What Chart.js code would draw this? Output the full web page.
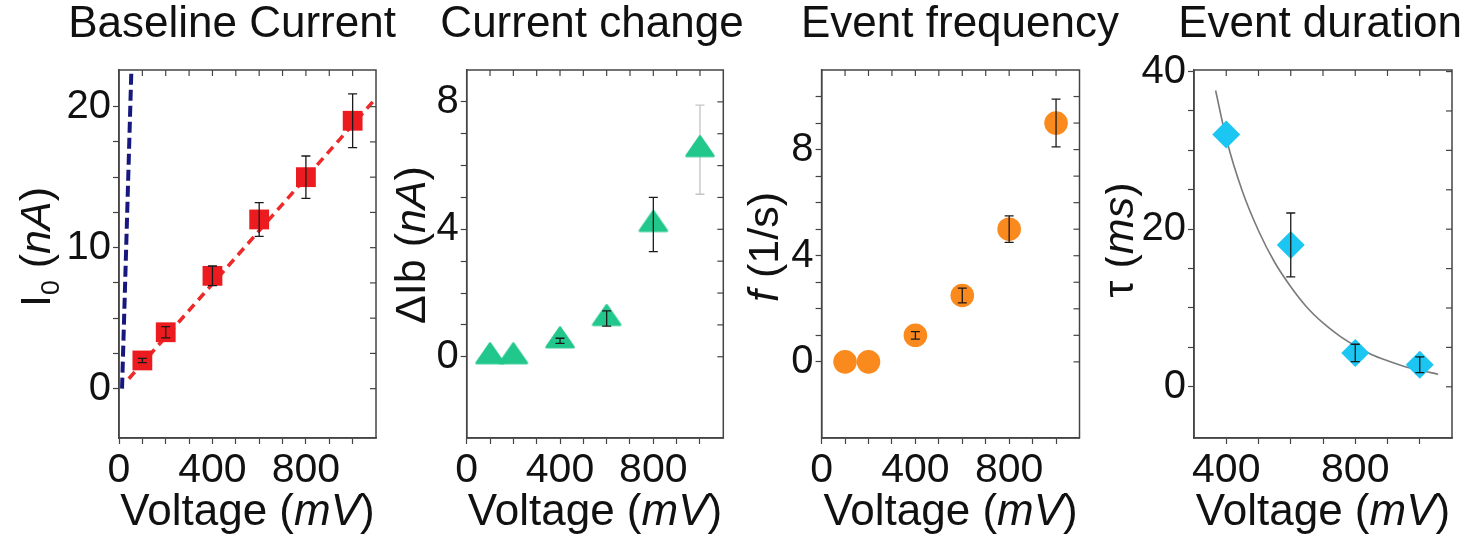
<!DOCTYPE html>
<html>
<head>
<meta charset="utf-8">
<script src="https://cdn.jsdelivr.net/npm/chart.js@4.4.1/dist/chart.umd.min.js"></script>
<style>
html,body{margin:0;padding:0;background:#fff;width:1483px;height:540px;overflow:hidden;}
canvas{position:absolute;top:0;}
</style>
</head>
<body>
<canvas id="c1"></canvas>
<canvas id="c2"></canvas>
<canvas id="c3"></canvas>
<canvas id="c4"></canvas>
<script>
// ---------- data ----------
const voltage = [100, 200, 400, 600, 800, 1000];
const baselineCurrent = [2, 4, 8, 12, 15, 19];
const baselineCurrentErr = [0.15, 0.4, 0.7, 1.2, 1.5, 1.9];
const linearFitV = [42, 1100];
const linearFitI = [0.7, 20.6];
const steepFitV = [13, 53];
const steepFitI = [0, 22.6];

const currentChange = [0, 0, 0.5, 1.2, 4.15, 6.5];
const currentChangeErr = [0, 0, 0.08, 0.24, 0.85, 1.4];

const eventFrequency = [0, 0, 1.0, 2.5, 5.0, 9.0];
const eventFrequencyErr = [0, 0, 0.14, 0.28, 0.5, 0.9];

const durationVoltage = [400, 600, 800, 1000];
const eventDuration = [32, 18, 4.3, 2.8];
const eventDurationErr = [0, 4.05, 1.1, 1.0];
const decayFitV = [367, 400, 450, 500, 550, 600, 650, 700, 750, 800, 850, 900, 950, 1000, 1057];
const decayFitT = [37.6, 31.5, 24.8, 19.8, 15.8, 12.7, 10.1, 8.1, 6.5, 5.2, 4.1, 3.3, 2.6, 2.1, 1.6];

// ---------- tick values / labels ----------
const voltTicks = [0, 100, 200, 300, 400, 500, 600, 700, 800, 900, 1000];
const voltLabels = [0, 400, 800];
const durVoltTicks = [400, 500, 600, 700, 800, 900, 1000];
const durVoltLabels = [400, 800];
const currentTicks = [0, 2.5, 5, 7.5, 10, 12.5, 15, 17.5, 20];
const currentLabels = [0, 10, 20];
const changeTicks = [0, 1, 2, 3, 4, 5, 6, 7, 8];
const changeLabels = [0, 4, 8];
const freqTicks = [0, 1, 2, 3, 4, 5, 6, 7, 8, 9, 10];
const freqLabels = [0, 4, 8];
const durTicks = [0, 5, 10, 15, 20, 25, 30, 35, 40];
const durLabels = [0, 20, 40];

// ---------- helpers ----------
const FAMILY = '"Liberation Sans", Arial, Helvetica, sans-serif';
Chart.defaults.font.family = FAMILY;
const pts = (xs, ys) => xs.map((x, i) => ({x: x, y: ys[i]}));

function drawRich(ctx, segs, size, x, y, rotate) {
  ctx.save();
  ctx.translate(x, y);
  if (rotate) ctx.rotate(-Math.PI / 2);
  let total = 0;
  const parts = segs.map(s => {
    const fs = s.sub ? size * 0.62 : size;
    const font = (s.it ? 'italic ' : '') + fs + 'px ' + FAMILY;
    ctx.font = font;
    const w = ctx.measureText(s.t).width;
    total += w;
    return {t: s.t, font: font, w: w, dy: s.sub ? size * 0.2 : 0};
  });
  let cx = -total / 2;
  ctx.textBaseline = 'alphabetic';
  ctx.textAlign = 'left';
  ctx.fillStyle = '#111';
  parts.forEach(p => { ctx.font = p.font; ctx.fillText(p.t, cx, p.dy); cx += p.w; });
  ctx.restore();
}

// flat, slightly rounded triangle marker (centroid at image centre)
function triangleMarker(color) {
  const c = document.createElement('canvas');
  c.width = 32; c.height = 30;
  const g = c.getContext('2d');
  g.fillStyle = color; g.strokeStyle = color; g.lineWidth = 2.5; g.lineJoin = 'round';
  g.beginPath();
  g.moveTo(16, 1.6); g.lineTo(29.5, 21.2); g.lineTo(2.5, 21.2); g.closePath();
  g.fill(); g.stroke();
  return c;
}

const framePlugin = {
  id: 'frame',
  afterDraw(chart) {
    const {ctx, chartArea: a, scales: {x, y}} = chart;
    ctx.save();
    ctx.strokeStyle = '#444';
    ctx.lineWidth = 1.5;
    ctx.strokeRect(a.left, a.top, a.right - a.left, a.bottom - a.top);
    ctx.lineWidth = 1.2;
    x.ticks.forEach(t => {
      const px = x.getPixelForValue(t.value);
      if (px > a.left + 1 && px < a.right - 1) {
        ctx.beginPath(); ctx.moveTo(px, a.top); ctx.lineTo(px, a.top + 6); ctx.stroke();
      }
    });
    y.ticks.forEach(t => {
      const py = y.getPixelForValue(t.value);
      if (py > a.top + 1 && py < a.bottom - 1) {
        ctx.beginPath(); ctx.moveTo(a.right, py); ctx.lineTo(a.right - 6, py); ctx.stroke();
      }
    });
    ctx.restore();
  }
};

function drawErr(chart, below) {
  const o = chart.options.plugins.errbars;
  if (!o) return;
  const {ctx, scales: {x, y}} = chart;
  ctx.save();
  o.xs.forEach((xv, i) => {
    const e = o.err[i];
    if (!e) return;
    const isBelow = (o.below || []).includes(i);
    if (isBelow !== below) return;
    const px = x.getPixelForValue(xv);
    const p1 = y.getPixelForValue(o.ys[i] + e);
    const p2 = y.getPixelForValue(o.ys[i] - e);
    ctx.strokeStyle = isBelow ? '#c4c4c4' : '#1a1a1a';
    ctx.lineWidth = 1.3;
    ctx.beginPath();
    ctx.moveTo(px, p1); ctx.lineTo(px, p2);
    ctx.moveTo(px - 4.5, p1); ctx.lineTo(px + 4.5, p1);
    ctx.moveTo(px - 4.5, p2); ctx.lineTo(px + 4.5, p2);
    ctx.stroke();
  });
  ctx.restore();
}
const errPlugin = {
  id: 'errbars',
  beforeDatasetsDraw(chart) { drawErr(chart, true); },
  afterDatasetsDraw(chart) { drawErr(chart, false); }
};

const textPlugin = {
  id: 'richtext',
  afterDraw(chart) {
    const o = chart.options.plugins.richtext;
    const {ctx, chartArea: a} = chart;
    const off = o.canvasLeft;
    drawRich(ctx, [{t: o.title}], 44, o.titleX - off, 37, false);
    drawRich(ctx, [{t: 'Voltage ('}, {t: 'mV', it: true}, {t: ')'}], 44, (a.left + a.right) / 2, 525, false);
    drawRich(ctx, o.ySegs, 43, o.yTitleX - off, o.yTitleY, true);
  }
};

function makePanel(id, p) {
  const cv = document.getElementById(id);
  cv.width = p.canvasWidth; cv.height = 540;
  cv.style.left = p.canvasLeft + 'px';
  cv.style.width = p.canvasWidth + 'px'; cv.style.height = '540px';
  const axisCommon = (tickVals, labelVals, size) => ({
    type: 'linear',
    afterBuildTicks: s => { s.ticks = tickVals.map(v => ({value: v})); },
    ticks: {
      autoSkip: false, maxRotation: 0, color: '#111', padding: 2,
      font: {size: size, family: FAMILY},
      callback: v => labelVals.includes(v) ? String(v) : ''
    },
    grid: {drawOnChartArea: false, drawTicks: true, tickLength: 6, tickColor: '#444', tickWidth: 1.2},
    border: {display: true, color: '#444', width: 1.5}
  });
  const xs = Object.assign(axisCommon(p.xTicks, p.xLabels, 41), {
    min: p.xMin, max: p.xMax, afterFit: s => { s.height = 102; }
  });
  const ys = Object.assign(axisCommon(p.yTicks, p.yLabels, 40), {
    min: p.yMin, max: p.yMax, afterFit: s => { s.width = p.yAxisWidth; }
  });
  return new Chart(cv, {
    type: 'scatter',
    data: {datasets: p.datasets},
    options: {
      responsive: false, animation: false, devicePixelRatio: 1,
      layout: {padding: {left: 0, right: p.padRight, top: 70, bottom: 0}},
      plugins: {
        legend: {display: false}, tooltip: {enabled: false}, title: {display: false},
        errbars: p.errbars,
        richtext: {canvasLeft: p.canvasLeft, title: p.title, titleX: p.titleX, ySegs: p.ySegs, yTitleX: p.yTitleX, yTitleY: p.yTitleY}
      },
      scales: {x: xs, y: ys}
    },
    plugins: [errPlugin, framePlugin, textPlugin]
  });
}

const marker = (data, style, r, color) => ({
  data: data, pointStyle: style, pointRadius: r, pointHoverRadius: r,
  backgroundColor: color, borderColor: color, borderWidth: 0, showLine: false
});
const fitLine = (data, color, width, dash) => ({
  type: 'line', data: data, showLine: true, pointRadius: 0, borderColor: color,
  borderWidth: width, borderDash: dash, fill: false, tension: 0.4, cubicInterpolationMode: 'monotone'
});

makePanel('c1', {
  canvasLeft: 0, canvasWidth: 400, yAxisWidth: 119, padRight: 24,
  xMin: 0, xMax: 1100, yMin: -3.5, yMax: 22.6,
  xTicks: voltTicks, xLabels: voltLabels, yTicks: currentTicks, yLabels: currentLabels,
  title: 'Baseline Current', titleX: 232,
  ySegs: [{t: 'I'}, {t: '0', sub: true}, {t: ' ('}, {t: 'nA', it: true}, {t: ')'}],
  yTitleX: 50, yTitleY: 247,
  errbars: {xs: voltage, ys: baselineCurrent, err: baselineCurrentErr},
  datasets: [
    marker(pts(voltage, baselineCurrent), 'rect', 14, '#ec1b1f'),
    fitLine(pts(linearFitV, linearFitI), '#ec2a2a', 3.5, [9, 6]),
    fitLine(pts(steepFitV, steepFitI), '#16187e', 4, [11, 5])
  ]
});

makePanel('c2', {
  canvasLeft: 385, canvasWidth: 365, yAxisWidth: 81.7, padRight: 26.7,
  xMin: 0, xMax: 1100, yMin: -2.55, yMax: 9.0,
  xTicks: voltTicks, xLabels: voltLabels, yTicks: changeTicks, yLabels: changeLabels,
  title: 'Current change', titleX: 592,
  ySegs: [{t: 'ΔIb ('}, {t: 'nA', it: true}, {t: ')'}],
  yTitleX: 425, yTitleY: 245,
  errbars: {xs: voltage, ys: currentChange, err: currentChangeErr, below: [5]},
  datasets: [
    marker(pts(voltage, currentChange), triangleMarker('#22c78c'), 15, '#22c78c')
  ]
});

makePanel('c3', {
  canvasLeft: 740, canvasWidth: 380, yAxisWidth: 81.6, padRight: 40.5,
  xMin: 0, xMax: 1100, yMin: -2.87, yMax: 11.0,
  xTicks: voltTicks, xLabels: voltLabels, yTicks: freqTicks, yLabels: freqLabels,
  title: 'Event frequency', titleX: 960,
  ySegs: [{t: 'f', it: true}, {t: ' (1/s)'}],
  yTitleX: 778, yTitleY: 247,
  errbars: {xs: voltage, ys: eventFrequency, err: eventFrequencyErr},
  datasets: [
    marker(pts(voltage, eventFrequency), 'circle', 11.8, '#fb8a1e')
  ]
});

makePanel('c4', {
  canvasLeft: 1105, canvasWidth: 378, yAxisWidth: 89, padRight: 31,
  xMin: 300, xMax: 1100, yMin: -6.5, yMax: 40.2,
  xTicks: durVoltTicks, xLabels: durVoltLabels, yTicks: durTicks, yLabels: durLabels,
  title: 'Event duration', titleX: 1320,
  ySegs: [{t: 'τ ('}, {t: 'ms', it: true}, {t: ')'}],
  yTitleX: 1133, yTitleY: 240,
  errbars: {xs: durationVoltage, ys: eventDuration, err: eventDurationErr},
  datasets: [
    marker(pts(durationVoltage, eventDuration), 'rectRot', 14, '#1cc6f2'),
    fitLine(pts(decayFitV, decayFitT), '#7a7a7a', 1.6, [])
  ]
});
</script>
</body>
</html>
